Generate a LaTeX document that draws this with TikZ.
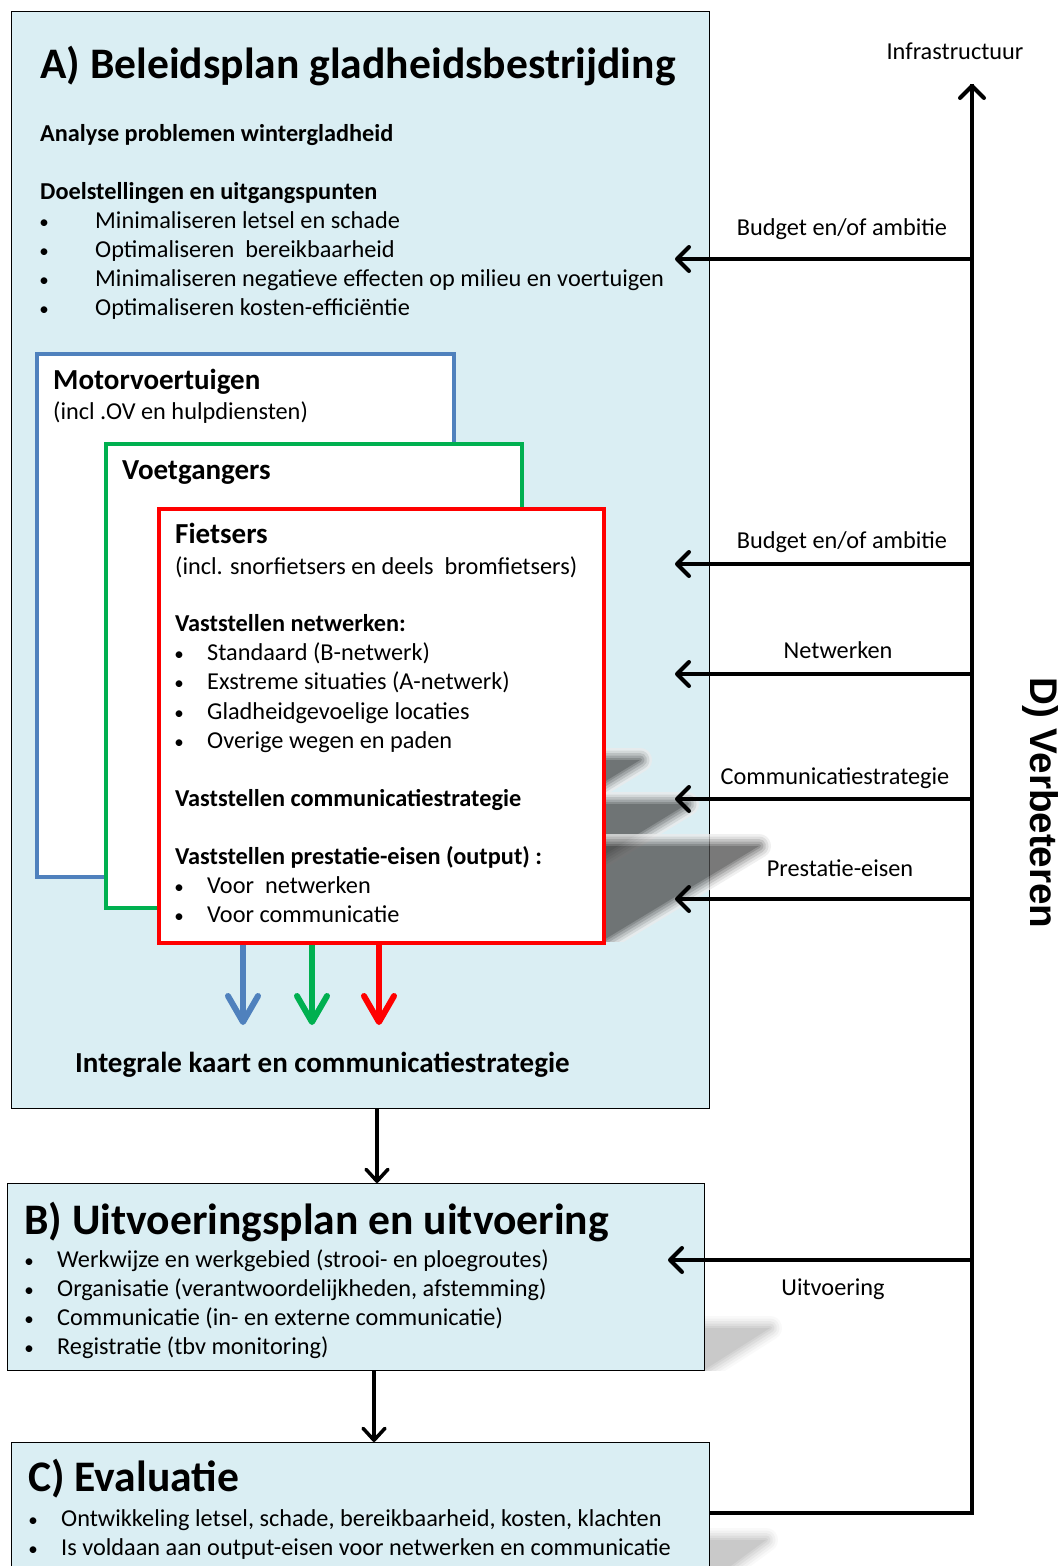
\documentclass[tikz,border=0pt]{standalone}
\usepackage{fontspec}
\setmainfont{Carlito}
\newfontfamily\dfont{Liberation Sans}
\usetikzlibrary{arrows.meta,calc}
\definecolor{panel}{HTML}{DAEEF3}
\definecolor{mblue}{HTML}{4F81BD}
\definecolor{mgreen}{HTML}{00B050}
\definecolor{mred}{HTML}{FF0000}
\newcommand\fs[1]{\fontsize{#1}{#1}\selectfont}
\newcommand\shadowpoly[6]{% x1 x2 yb dx h opacity
  \begin{scope}
    \clip ($(#1,#3)+(6,0)$) rectangle ($(#2,#3)+(#4+40,-#5-40)$);
  \begin{scope}[transparency group, opacity=#6]
    \foreach \w/\c in {24/8, 19/18, 14/30, 9/44, 4/57}{
      \draw[black!\c, line width=\w pt, line join=round] (#1,#3) -- (#2,#3) -- ($(#2,#3)+(#4,-#5)$) -- ($(#1,#3)+(#4,-#5)$) -- cycle;
    }
    \fill[black!70] (#1,#3) -- (#2,#3) -- ($(#2,#3)+(#4,-#5)$) -- ($(#1,#3)+(#4,-#5)$) -- cycle;
  \end{scope}
  \end{scope}}
\begin{document}
\begin{tikzpicture}[x=1pt,y=-1pt,
  panelbox/.style={draw=black, line width=1pt, fill=panel, anchor=north west, inner sep=0},
  groupbox/.style={fill=white, line width=3.5pt, anchor=north west, inner sep=0},
  txt/.style={anchor=base west, inner sep=0},
  bul/.style={anchor=base, inner sep=0, font=\fs{19}},
  lbl/.style={anchor=base, inner sep=0, font=\fs{24.3}},
  body/.style={txt, font=\fs{24.3}},
  head/.style={txt, font=\fs{24.3}\bfseries},
  grouptitle/.style={txt, font=\fs{29}\bfseries},
  bigtitle/.style={txt, font=\fs{43.6}\bfseries},
  fbline/.style={line width=4.5pt},
  fbarrow/.style={line width=4pt, -{Straight Barb[length=12pt,width=24pt,round]}},
  darrow/.style={line width=3.5pt, -{Straight Barb[length=12pt,width=22pt,round]}},
  carrow/.style={line width=6pt, -{Straight Barb[length=26pt,width=30pt,round]}}]
\useasboundingbox (0,0) rectangle (1062,1566);
\clip (0,0) rectangle (1062,1566);

% ---- Panel A
\node[panelbox, minimum width=698pt, minimum height=1097pt] (A) at (11,11) {};
\node[bigtitle] (Atitle) at (40,78) {A) Beleidsplan gladheidsbestrijding};
\node[head] (an) at (40,141) {Analyse problemen wintergladheid};
\node[head] (doel) at (40,199) {Doelstellingen en uitgangspunten};
\foreach \y/\t [count=\i] in {228/{Minimaliseren letsel en schade}, 257/{Optimaliseren\ \ bereikbaarheid}, 286/{Minimaliseren negatieve effecten op milieu en voertuigen}, 315/{Optimaliseren kosten-efficiëntie}}{
  \node[bul] (ab\i) at (44,\y) {•};
  \node[body] (at\i) at (95,\y) {\t};
}

% shadows and group boxes
\shadowpoly{35}{452}{875}{188}{115}{0.75}
\node[groupbox, draw=mblue, minimum width=417pt, minimum height=523pt] (mv) at (35,352) {};
\node[grouptitle] (mvt) at (53,389) {Motorvoertuigen};
\node[body] (mvs) at (53,419) {(incl .OV en hulpdiensten)};

\shadowpoly{104}{520}{906}{167}{102}{0.75}
\node[groupbox, draw=mgreen, minimum width=416pt, minimum height=464pt] (vg) at (104,442) {};
\node[grouptitle] (vgt) at (122,479) {Voetgangers};

\shadowpoly{157}{602}{941}{157}{95}{0.75}
\node[groupbox, draw=mred, minimum width=445pt, minimum height=434pt] (fi) at (157,507) {};
\node[grouptitle] (fit) at (175,543) {Fietsers};
\node[body] (fis) at (175,574) {(incl. snorfietsers en deels\ \ bromfietsers)};
\node[head] (vn) at (175,631) {Vaststellen netwerken:};
\foreach \y/\t [count=\i] in {660/{Standaard (B-netwerk)}, 689/{Exstreme situaties (A-netwerk)}, 719/{Gladheidgevoelige locaties}, 748/{Overige wegen en paden}}{
  \node[bul] (nb\i) at (179,\y) {•};
  \node[body] (nt\i) at (207,\y) {\t};
}
\node[head] (vc) at (175,806) {Vaststellen communicatiestrategie};
\node[head] (vp) at (175,864) {Vaststellen prestatie-eisen (output) :};
\foreach \y/\t [count=\i] in {893/{Voor\ \ netwerken}, 922/{Voor communicatie}}{
  \node[bul] (pb\i) at (179,\y) {•};
  \node[body] (pt\i) at (207,\y) {\t};
}
\coordinate (cb) at (243,1025);
\coordinate (cg) at (312,1025);
\coordinate (cr) at (379,1025);
\draw[carrow, mblue] (fi.south -| cb) -- (cb);
\draw[carrow, mgreen] (fi.south -| cg) -- (cg);
\draw[carrow, mred] (fi.south -| cr) -- (cr);
\node[grouptitle] (ik) at (75,1072) {Integrale kaart en communicatiestrategie};

% ---- Panel B
\shadowpoly{7}{704}{1370}{66}{42}{0.3}
\node[panelbox, minimum width=697pt, minimum height=187pt] (B) at (7,1183) {};
\node[bigtitle] (Bt) at (24,1234) {B) Uitvoeringsplan en uitvoering};
\foreach \y/\t [count=\i] in {1267/{Werkwijze en werkgebied (strooi- en ploegroutes)}, 1296/{Organisatie (verantwoordelijkheden, afstemming)}, 1325/{Communicatie (in- en externe communicatie)}, 1354/{Registratie (tbv monitoring)}}{
  \node[bul] (bb\i) at (29,\y) {•};
  \node[body] (bt\i) at (57,\y) {\t};
}

% ---- Panel C
\shadowpoly{11}{709}{1582}{57}{42}{0.3}
\node[panelbox, minimum width=698pt, minimum height=180pt] (C) at (11,1442) {};
\node[bigtitle] (Ct) at (28,1491) {C) Evaluatie};
\foreach \y/\t [count=\i] in {1526/{Ontwikkeling letsel, schade, bereikbaarheid, kosten, klachten}, 1555/{Is voldaan aan output-eisen voor netwerken en communicatie}}{
  \node[bul] (cbl\i) at (33,\y) {•};
  \node[body] (ct\i) at (61,\y) {\t};
}

% ---- vertical flow arrows
\coordinate (abx) at (377,0);
\coordinate (bcx) at (374,0);
\draw[darrow] (A.south -| abx) -- (B.north -| abx);
\draw[darrow] (B.south -| bcx) -- (C.north -| bcx);

% ---- feedback loop D
\coordinate (fbx) at (972,0);
\coordinate (fby) at (0,1513);
\coordinate (top) at (972,84);
\draw[fbline, line join=miter] (C.east |- fby) -- (fbx |- fby) -- (top);
\draw[fbarrow] ($(top)+(0,20)$) -- (top);
\node[lbl] (infra) at (955,59) {Infrastructuur};
\foreach \y/\xe/\lx/\ly/\t [count=\i] in {259/675/842/235/{Budget en/of ambitie}, 564/675/842/548/{Budget en/of ambitie}, 674/675/838/658/{Netwerken}, 799/675/835/784/{Communicatiestrategie}, 899/675/840/876/{Prestatie-eisen}, 1260/668/833/1295/{Uitvoering}}{
  \coordinate (e\i) at (\xe,\y);
  \draw[fbarrow] (fbx |- e\i) -- (e\i);
  \node[lbl] (l\i) at (\lx,\ly) {\t};
}
\node[rotate=-90, inner sep=0, font=\dfont\fs{38.6}\bfseries] (D) at (1040,803) {D) Verbeteren};
\end{tikzpicture}
\end{document}
